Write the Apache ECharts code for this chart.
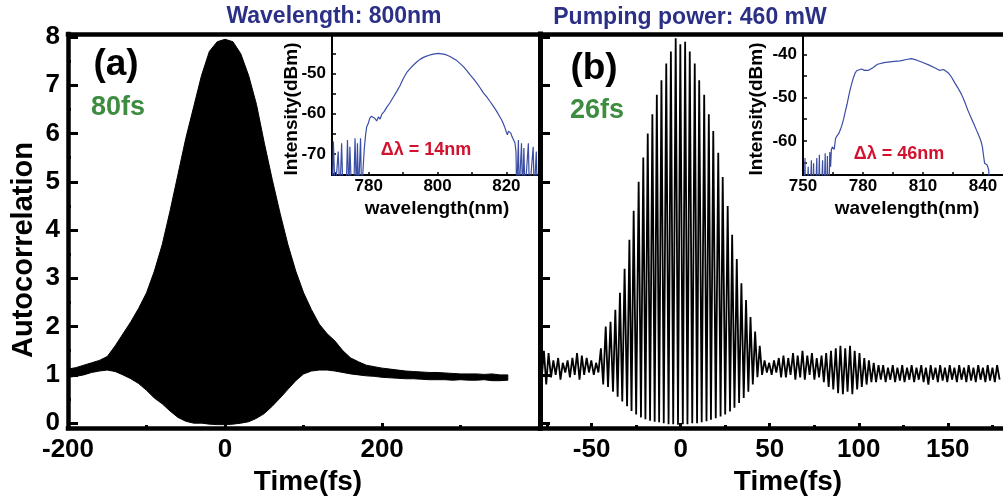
<!DOCTYPE html>
<html><head><meta charset="utf-8">
<script src="https://cdn.jsdelivr.net/npm/echarts@6/dist/echarts.min.js"></script>
<style>html,body{margin:0;padding:0;background:#fff}#c{width:1003px;height:501px}</style>
</head><body><div id="c"></div>
<script>
const FONT = '"Liberation Sans", Arial, Helvetica, sans-serif';

// ---- Panel (a): interferometric autocorrelation envelope (fs, a.u.) ----
const aTime = [-200,-190,-180,-170,-160,-150,-140,-130,-120,-110,-100,-90,-80,-70,-60,-50,-40,-30,-20,-10,0,10,20,30,40,50,60,70,80,90,100,110,120,130,140,150,160,170,180,190,200,210,220,230,240,250,260,270,280,290,300,310,320,330,340,350,360];
const aUpper = [1.12,1.15,1.2,1.25,1.3,1.38,1.6,1.85,2.1,2.38,2.7,3.15,3.7,4.4,5.15,5.9,6.55,7.2,7.7,7.9,7.95,7.9,7.65,7.2,6.6,5.8,5.05,4.35,3.7,3.15,2.7,2.35,2.05,1.85,1.7,1.5,1.35,1.27,1.2,1.17,1.14,1.12,1.1,1.08,1.07,1.06,1.05,1.05,1.04,1.03,1.02,1.02,1.02,1.01,1.02,1.0,1.0];
const aLower = [0.95,0.97,1.0,1.05,1.08,1.1,1.07,1.0,0.92,0.82,0.68,0.52,0.4,0.25,0.12,0.04,0.0,0.0,-0.02,-0.03,-0.03,-0.02,0.0,0.03,0.1,0.2,0.35,0.52,0.7,0.88,1.02,1.08,1.1,1.1,1.08,1.05,1.02,1.0,0.98,0.97,0.95,0.94,0.93,0.92,0.92,0.91,0.9,0.9,0.9,0.89,0.9,0.89,0.89,0.9,0.88,0.88,0.89];

// ---- Panel (b): fringe extrema [time fs, value] ----
const bLeftNoise = [[-79.5,1.35],[-78.2,0.85],[-76.8,1.5],[-75.5,0.8],[-74.2,1.45],[-72.8,0.95],[-71.5,1.3],[-70.2,1.0],[-68.8,1.35],[-67.5,0.9],[-66.2,1.25],[-64.8,1.05],[-63.5,1.3],[-62.2,0.95],[-60.8,1.35],[-59.5,1.0],[-58.2,1.45],[-56.8,0.9],[-55.5,1.4],[-54.2,1.0],[-52.8,1.35],[-51.5,1.05],[-50.2,1.3],[-48.8,1.0],[-47.5,1.25],[-46.2,1.05],[-44.8,1.55],[-43.5,0.8]];
const bPulse = [[-42.1,2.0],[-40.8,0.75],[-39.4,2.1],[-38.0,0.65],[-36.7,2.35],[-35.4,0.55],[-34.1,2.7],[-32.8,0.45],[-31.5,3.2],[-30.1,0.35],[-28.8,3.8],[-27.6,0.25],[-26.4,4.4],[-25.0,0.18],[-23.6,5.0],[-22.3,0.12],[-21.0,5.5],[-19.8,0.08],[-18.5,6.0],[-17.2,0.05],[-15.9,6.4],[-14.6,0.03],[-13.4,6.8],[-12.1,0.02],[-10.8,7.1],[-9.5,0.0],[-8.1,7.45],[-6.8,-0.02],[-5.5,7.7],[-4.2,-0.02],[-2.8,7.97],[-1.5,-0.03],[-0.2,7.85],[1.2,-0.02],[2.5,7.9],[3.8,-0.02],[5.1,7.7],[6.5,0.0],[7.9,7.45],[9.2,0.0],[10.4,7.1],[11.8,0.02],[13.2,6.8],[14.5,0.04],[15.8,6.4],[17.0,0.07],[18.3,6.05],[19.7,0.1],[21.1,5.6],[22.4,0.14],[23.6,5.1],[25.0,0.18],[26.4,4.5],[27.7,0.24],[28.9,3.9],[30.2,0.32],[31.5,3.4],[32.8,0.42],[34.1,2.9],[35.4,0.52],[36.7,2.55],[38.0,0.65],[39.2,2.2],[40.5,0.8],[41.8,1.9],[43.1,0.95]];
const bRightNoise = [[44.4,1.6],[45.7,1.0],[47.1,1.3],[48.4,1.05],[49.7,1.25],[51.1,1.0],[52.4,1.3],[53.7,1.05],[55.1,1.35],[56.4,0.95],[57.7,1.4],[59.1,0.95],[60.4,1.35],[61.7,1.0],[63.1,1.45],[64.4,0.9],[65.7,1.4],[67.1,0.95],[68.4,1.5],[69.7,0.9],[71.1,1.4],[72.4,1.0],[73.7,1.45],[75.1,0.9],[76.4,1.35],[77.7,0.95],[79.1,1.4],[80.4,0.85],[81.7,1.45],[83.1,0.75],[84.4,1.5],[85.7,0.7],[87.1,1.55],[88.4,0.62],[89.7,1.6],[91.1,0.6],[92.4,1.55],[93.7,0.65],[95.1,1.6],[96.4,0.6],[97.7,1.5],[99.1,0.7],[100.4,1.45],[101.7,0.75],[103.1,1.35],[104.4,0.8],[105.7,1.3],[107.1,0.85],[108.4,1.25],[109.7,0.85],[111.1,1.2],[112.4,0.9],[113.7,1.2],[115.1,0.85],[116.4,1.15],[117.7,0.9],[119.1,1.2],[120.4,0.85],[121.7,1.15],[123.1,0.88],[124.4,1.2],[125.7,0.85],[127.1,1.15],[128.4,0.9],[129.7,1.2],[131.1,0.85],[132.4,1.15],[133.7,0.9],[135.1,1.2],[136.4,0.85],[137.7,1.15],[139.1,0.8],[140.4,1.2],[141.7,0.9],[143.1,1.15],[144.4,0.85],[145.7,1.2],[147.1,0.88],[148.4,1.15],[149.7,0.85],[151.1,1.2],[152.4,0.9],[153.7,1.15],[155.1,0.85],[156.4,1.2],[157.7,0.9],[159.1,1.15],[160.4,0.85],[161.7,1.2],[163.1,0.88],[164.4,1.15],[165.7,0.85],[167.1,1.2],[168.4,0.9],[169.7,1.15],[171.1,0.85],[172.4,1.2],[173.7,0.88],[175.1,1.15],[176.4,0.85],[177.7,1.2],[179.1,0.9]];

// ---- Insets: spectra [wavelength nm, dBm] ----
const specA = [[769.4,-80],[769.7,-66.9],[770.2,-80],[770.7,-80],[771.1,-69.4],[771.6,-80],[772.1,-67.3],[772.5,-80],[773.4,-80],[773.8,-66.5],[774.2,-80],[774.5,-68.2],[775.0,-80],[775.6,-80],[776.0,-66.1],[776.4,-80],[776.7,-67.3],[777.0,-80],[777.6,-66.1],[777.9,-80],[778.3,-80],[778.7,-68.5],[779.1,-65.0],[779.4,-63.2],[779.8,-62.5],[780.3,-61.1],[780.8,-60.6],[781.3,-60.3],[781.8,-61.2],[782.3,-61.8],[782.8,-60.8],[783.3,-61.3],[783.8,-60.1],[784.5,-59.4],[785.2,-58.4],[786.2,-57.2],[787.1,-55.9],[788.1,-54.5],[789.1,-53.0],[790.0,-51.3],[791.0,-49.8],[792.0,-48.8],[793.0,-47.9],[794.0,-47.1],[794.9,-46.5],[795.9,-46.0],[796.8,-45.7],[797.8,-45.4],[798.8,-45.2],[800.2,-45.0],[801.7,-45.2],[802.6,-45.4],[803.6,-45.8],[804.6,-46.3],[805.6,-46.8],[806.5,-47.5],[807.5,-48.3],[808.5,-49.3],[809.4,-50.3],[810.4,-51.3],[811.4,-52.4],[812.4,-53.6],[813.3,-54.8],[814.3,-55.8],[815.2,-56.9],[816.2,-58.1],[817.2,-59.4],[818.0,-60.6],[818.6,-61.5],[819.1,-62.4],[819.6,-63.5],[820.0,-64.6],[820.3,-65.2],[820.6,-64.3],[820.9,-63.9],[821.3,-64.8],[821.6,-65.6],[822.1,-66.5],[822.5,-67.2],[822.8,-69.5],[823.0,-80],[823.5,-66.5],[823.7,-80],[824.1,-80],[824.4,-67.3],[824.7,-80],[825.1,-68.5],[825.4,-80],[825.9,-80],[826.4,-67.3],[826.7,-80],[827.1,-80],[827.8,-68.2],[828.1,-80],[828.4,-80],[828.7,-69.4],[829.0,-80]];
const specB = [[750.3,-80],[751.0,-64.0],[751.4,-80],[752.2,-80],[752.6,-66.0],[753.0,-80],[753.8,-80],[754.2,-64.5],[754.6,-80],[755.3,-65.2],[755.7,-80],[756.5,-80],[756.9,-64.0],[757.3,-80],[757.8,-80],[758.2,-63.2],[758.6,-80],[759.4,-80],[759.8,-64.5],[760.2,-80],[760.7,-80],[761.1,-62.9],[761.5,-80],[762.2,-63.5],[762.6,-80],[763.0,-80],[763.4,-62.6],[763.8,-66],[764.2,-62.0],[764.7,-61.4],[765.2,-61.0],[765.6,-62.0],[766.3,-59.4],[767.1,-58.8],[767.9,-58.3],[768.7,-57.4],[769.5,-56.3],[770.3,-55.0],[771.1,-53.3],[772.0,-51.6],[772.8,-49.8],[773.6,-48.1],[774.4,-46.7],[775.2,-45.4],[776.0,-44.4],[776.8,-43.8],[777.6,-43.5],[779.2,-43.4],[780.8,-43.7],[782.8,-43.7],[784.9,-43.1],[787.3,-42.3],[790.5,-41.9],[794.5,-41.7],[798.6,-41.5],[801.8,-41.2],[804.2,-41.0],[806.6,-41.3],[809.9,-41.9],[813.1,-42.5],[816.3,-43.2],[818.2,-43.7],[820.3,-43.5],[822.7,-44.3],[824.3,-45.3],[825.9,-46.6],[827.5,-47.8],[829.2,-49.2],[830.8,-50.9],[832.4,-52.9],[834.0,-54.6],[835.6,-56.3],[836.9,-57.7],[838.1,-59.0],[839.0,-60.1],[839.7,-61.4],[840.3,-63.5],[840.8,-65.2],[841.4,-64.8],[842.1,-65.6],[842.9,-66.8],[843.5,-80]];

// ---- tick values ----
const aXMajor = [-200,0,200];
const aXMinor = [-100,100,300];
const bXMajor = [-50,0,50,100,150];
const bXMinor = [-75,-25,25,75,125,175];
const yMajor = [0,1,2,3,4,5,6,7,8];
const yMinor = [0.5,1.5,2.5,3.5,4.5,5.5,6.5,7.5];
const insAXTicks = [770,780,790,800,810,820];
const insAXLabels = [780,800,820];
const insAYTicks = [-45,-50,-55,-60,-65,-70,-75];
const insAYLabels = [-50,-60,-70];
const insBXTicks = [750,765,780,795,810,825,840];
const insBXLabels = [750,780,810,840];
const insBYTicks = [-40,-45,-50,-55,-60,-65];
const insBYLabels = [-40,-50,-60];

const lbl = (size, margin) => ({color:'#000', fontWeight:'bold', fontFamily:FONT, fontSize:size, margin:margin});

function axis(o) {
  return {
    type:'value', gridIndex:o.grid, min:o.min, max:o.max, position:o.pos, z: o.z || 3,
    axisLine:{show:!!o.line, onZero:false, lineStyle:{color:'#000', width:o.lineW||2, cap:'square'}},
    splitLine:{show:false},
    axisTick: o.ticks ? {show:true, inside:true, length:o.tl, customValues:o.ticks, lineStyle:{color:'#000', width:o.tw||3}} : {show:false},
    axisLabel: o.labels ? Object.assign({show:true, customValues:o.labels}, lbl(o.fs, o.margin)) : {show:false}
  };
}

const xAxis = [
  axis({grid:0, min:-200, max:401, pos:'bottom', line:true, lineW:4.5, ticks:aXMajor, labels:aXMajor, tl:5, fs:26, margin:9}),
  axis({grid:0, min:-200, max:401, pos:'bottom', ticks:aXMinor, tl:3}),
  axis({grid:1, min:-79, max:181, pos:'bottom', line:true, lineW:4.5, ticks:bXMajor, labels:bXMajor, tl:5, fs:26, margin:9}),
  axis({grid:1, min:-79, max:181, pos:'bottom', ticks:bXMinor, tl:3}),
  axis({grid:2, min:769.3, max:829.2, pos:'bottom', line:true, ticks:insAXTicks, labels:insAXLabels, tl:3, tw:1.5, fs:17, margin:3}),
  axis({grid:3, min:750, max:850, pos:'bottom', line:true, ticks:insBXTicks, labels:insBXLabels, tl:3, tw:1.5, fs:17, margin:3}),
  axis({grid:0, min:-200, max:401, pos:'top', line:true, lineW:4.5}),
  axis({grid:1, min:-79, max:181, pos:'top', line:true, lineW:4.5})
];
const yAxis = [
  axis({grid:0, min:-0.1, max:8.06, pos:'left', line:true, lineW:4.5, ticks:yMajor, labels:yMajor, tl:10, fs:26, margin:8}),
  axis({grid:0, min:-0.1, max:8.06, pos:'left', ticks:yMinor, tl:3}),
  axis({grid:1, min:-0.1, max:8.06, pos:'left', line:true, lineW:5, z:5, ticks:yMajor, tl:10}),
  axis({grid:1, min:-0.1, max:8.06, pos:'left', ticks:yMinor, tl:3}),
  axis({grid:2, min:-75.2, max:-40.2, pos:'left', line:true, ticks:insAYTicks, labels:insAYLabels, tl:4, tw:1.5, fs:17, margin:6}),
  axis({grid:3, min:-67.9, max:-35.3, pos:'left', line:true, ticks:insBYTicks, labels:insBYLabels, tl:4, tw:1.5, fs:17, margin:6})
];

function txt(text, x, y, size, color, rot) {
  return {type:'text', x:x, y:y, rotation:rot||0, z:10,
    style:{text:text, fill:color||'#000', font:'bold '+size+'px '+FONT, align:'center', verticalAlign:'middle'}};
}

const option = {
  animation:false,
  backgroundColor:'#fff',
  grid:[
    {left:68, top:34, width:472, height:394},
    {left:540, top:34, width:473, height:394},
    {left:332, top:34, width:206, height:141},
    {left:803, top:34, width:207, height:141}
  ],
  xAxis: xAxis,
  yAxis: yAxis,
  series:[
    {type:'custom', xAxisIndex:0, yAxisIndex:0, clip:true,
     data: aTime.map((t,i)=>[t, aLower[i], aUpper[i]]),
     encode:{x:0, y:1},
     renderItem:function(params, api){
       if (params.dataIndexInside !== 0) return null;
       const n = params.dataInsideLength, top=[], bot=[];
       for (let i=0;i<n;i++){
         const t = api.value(0,i);
         top.push(api.coord([t, api.value(2,i)]));
         bot.push(api.coord([t, api.value(1,i)]));
       }
       return {type:'polygon', shape:{points: top.concat(bot.reverse())}, style:{fill:'#000', stroke:'#000', lineWidth:1}};
     }},
    {type:'line', xAxisIndex:2, yAxisIndex:2, data: bLeftNoise.concat(bPulse, bRightNoise), symbol:'none', clip:true,
     lineStyle:{color:'#000', width:1.8}},
    {type:'line', xAxisIndex:4, yAxisIndex:4, data: specA, symbol:'none', clip:true, lineStyle:{color:'#3b4ea5', width:1.2}},
    {type:'line', xAxisIndex:5, yAxisIndex:5, data: specB, symbol:'none', clip:true, lineStyle:{color:'#3b4ea5', width:1.2}}
  ],
  graphic:[
    txt('(a)', 116, 65, 37),
    txt('80fs', 118, 108, 27, '#3d8c3f'),
    txt('(b)', 594, 69, 37),
    txt('26fs', 597, 111, 27, '#3d8c3f'),
    txt('Autocorrelation', 24, 250, 29, '#000', Math.PI/2),
    txt('Time(fs)', 308, 482, 28),
    txt('Time(fs)', 788, 482, 28),
    txt('Wavelength: 800nm', 334, 17, 23, '#2b3086'),
    txt('Pumping power: 460 mW', 690, 18, 23, '#2b3086'),
    txt('Intensity(dBm)', 292, 109, 19, '#000', Math.PI/2),
    txt('Intensity(dBm)', 757, 109, 19, '#000', Math.PI/2),
    txt('wavelength(nm)', 437, 209, 19),
    txt('wavelength(nm)', 907, 209, 19),
    txt('\u0394\u03bb = 14nm', 426, 150, 18, '#d2122e'),
    txt('\u0394\u03bb = 46nm', 899, 154, 18, '#d2122e')
  ]
};
echarts.init(document.getElementById('c'), null, {renderer:'canvas'}).setOption(option);
</script></body></html>
